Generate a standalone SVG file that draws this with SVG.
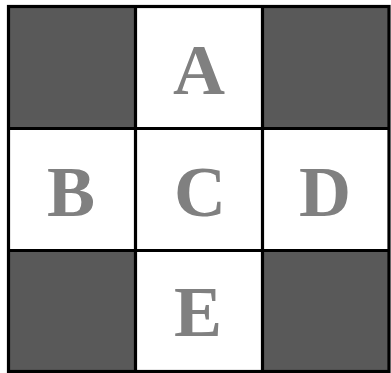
<svg xmlns="http://www.w3.org/2000/svg" width="391" height="373" viewBox="0 0 391 373">
<style>
.dark{fill:#595959;stroke:none}
.grid{stroke:#000;stroke-width:3.2;fill:none}
.lbl{font-family:'Liberation Serif',serif;font-weight:700;font-size:72px;fill:#808080;text-anchor:middle}
</style>
<rect width="391" height="373" fill="#fff"/>
<g id="cell-tl"><rect class="dark" x="8.5" y="6.5" width="127" height="122"/></g>
<g id="cell-tr"><rect class="dark" x="262.5" y="6.5" width="126.5" height="122"/></g>
<g id="cell-bl"><rect class="dark" x="8.5" y="250.5" width="127" height="121"/></g>
<g id="cell-br"><rect class="dark" x="262.5" y="250.5" width="126.5" height="121"/></g>
<g id="grid">
<rect class="grid" x="8.5" y="6.5" width="380.5" height="365"/>
<line class="grid" x1="135.5" y1="6.5" x2="135.5" y2="371.5"/>
<line class="grid" x1="262.5" y1="6.5" x2="262.5" y2="371.5"/>
<line class="grid" x1="8.5" y1="128.5" x2="389" y2="128.5"/>
<line class="grid" x1="8.5" y1="250.5" x2="389" y2="250.5"/>
</g>
<g id="A"><text class="lbl" x="199" y="94">A</text></g>
<g id="B"><text class="lbl" x="71" y="216">B</text></g>
<g id="C"><text class="lbl" x="200" y="216">C</text></g>
<g id="D"><text class="lbl" x="325" y="216">D</text></g>
<g id="E"><text class="lbl" x="198" y="336">E</text></g>
</svg>
